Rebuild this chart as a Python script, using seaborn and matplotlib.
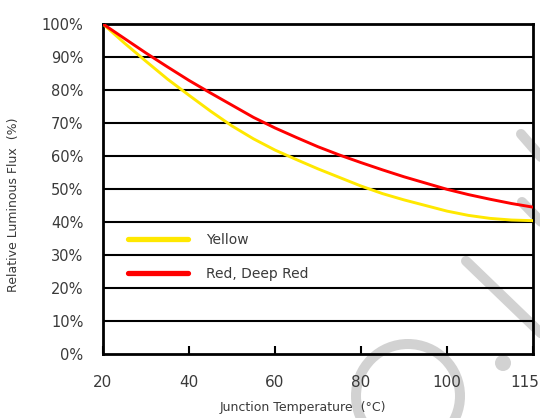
import numpy as np
import pandas as pd
import seaborn as sns
import matplotlib
matplotlib.use("Agg")
import matplotlib.pyplot as plt
from matplotlib.lines import Line2D
from matplotlib.patches import Circle
from matplotlib.transforms import Affine2D, ScaledTranslation

# Junction temperature (deg C) and relative luminous flux (%)
temperature = [20, 25, 30, 35, 40, 45, 50, 55, 60, 65, 70, 75, 80,
               85, 90, 95, 100, 105, 110, 115, 120]
flux_yellow = [100, 94.2, 88.7, 83.3, 78.4, 73.6, 69.1, 65.2, 61.8, 58.9, 56.1,
               53.5, 50.9, 48.6, 46.7, 45.0, 43.3, 42.0, 41.1, 40.6, 40.4]
flux_red = [100, 95.6, 91.2, 87.0, 82.9, 79.1, 75.4, 71.7, 68.5, 65.6, 62.8,
            60.3, 58.0, 55.8, 53.7, 51.8, 49.9, 48.3, 46.9, 45.6, 44.5]

series_names = ["Yellow", "Red, Deep Red"]
series_colors = ["#ffe800", "#ff0000"]

x_tick_pos = [20, 40, 60, 80, 100, 120]
x_tick_labels = ["20", "40", "60", "80", "100", "115"]
y_ticks = list(range(0, 101, 10))
y_tick_labels = [f"{v}%" for v in y_ticks]

df = pd.DataFrame({
    "Junction Temperature": temperature * 2,
    "Flux": flux_yellow + flux_red,
    "Series": [series_names[0]] * len(temperature) + [series_names[1]] * len(temperature),
})

sns.set_theme(style="white")
plt.rcParams["font.family"] = ["DejaVu Sans"]
text_color = "#3a3a3a"

W, H = 540, 418
fig = plt.figure(figsize=(W / 100, H / 100), dpi=100)
ax = fig.add_axes([103 / W, 1 - 354 / H, (533 - 103) / W, (354 - 24) / H])
ax.patch.set_alpha(0)

# light grey logo watermark behind the chart (pixel coordinates, y from top)
px = Affine2D().scale(1, -1).translate(0, H)
wm = "#d2d2d2"
fig.add_artist(Circle((408, 396), 52, fill=False, lw=7.2, ec=wm, transform=px, zorder=-5))
fig.add_artist(Circle((503, 363), 8, fc=wm, ec="none", transform=px, zorder=-5))
for (x0, y0), (x1, y1) in [((521, 134), (548, 165)), ((522, 202), (548, 229)),
                           ((466, 261), (548, 340))]:
    fig.add_artist(Line2D([x0, x1], [y0, y1], lw=7.2, color=wm, solid_capstyle="round",
                          transform=px, zorder=-5))

sns.lineplot(data=df, x="Junction Temperature", y="Flux", hue="Series",
             palette=dict(zip(series_names, series_colors)), linewidth=2.1,
             ax=ax, legend=True, zorder=3)

ax.set_xlim(20, 120)
ax.set_ylim(0, 100)
ax.set_yticks(y_ticks)
ax.set_yticklabels(y_tick_labels)
ax.set_xticks(x_tick_pos)
ax.set_xticklabels(x_tick_labels)

for v in y_ticks[1:-1]:
    ax.axhline(v, color="black", lw=1.5, zorder=2)

for s in ax.spines.values():
    s.set_visible(True)
    s.set_color("black")
    s.set_linewidth(2)

ax.tick_params(axis="x", direction="in", length=6, width=1.5, color="black",
               pad=15, labelsize=11, labelcolor=text_color, bottom=True)
ax.tick_params(axis="y", length=0, pad=14, labelsize=10.5, labelcolor=text_color)

last = ax.get_xticklabels()[-1]
last.set_transform(last.get_transform() + ScaledTranslation(-6 / 72, 0, fig.dpi_scale_trans))

ax.set_xlabel("Junction Temperature  (°C)", fontsize=9, color=text_color)
ax.set_ylabel("Relative Luminous Flux  (%)", fontsize=9, color=text_color)
ax.xaxis.set_label_coords((303 - 103) / (533 - 103), -(401 - 354) / (354 - 24))
ax.yaxis.set_label_coords(-(103 - 20) / (533 - 103), (354 - 205) / (354 - 24))

handles, labels = ax.get_legend_handles_labels()
leg = ax.legend(handles, labels, loc="upper left",
                bbox_to_anchor=(128 / W, 1 - 233 / H), bbox_transform=fig.transFigure,
                frameon=False, fontsize=10, handlelength=4.3, handletextpad=1.35,
                labelspacing=1.45, borderpad=0, borderaxespad=0)
for line in leg.get_lines():
    line.set_linewidth(3.8)
for t in leg.get_texts():
    t.set_color(text_color)

fig.savefig("out.png", dpi=100)
